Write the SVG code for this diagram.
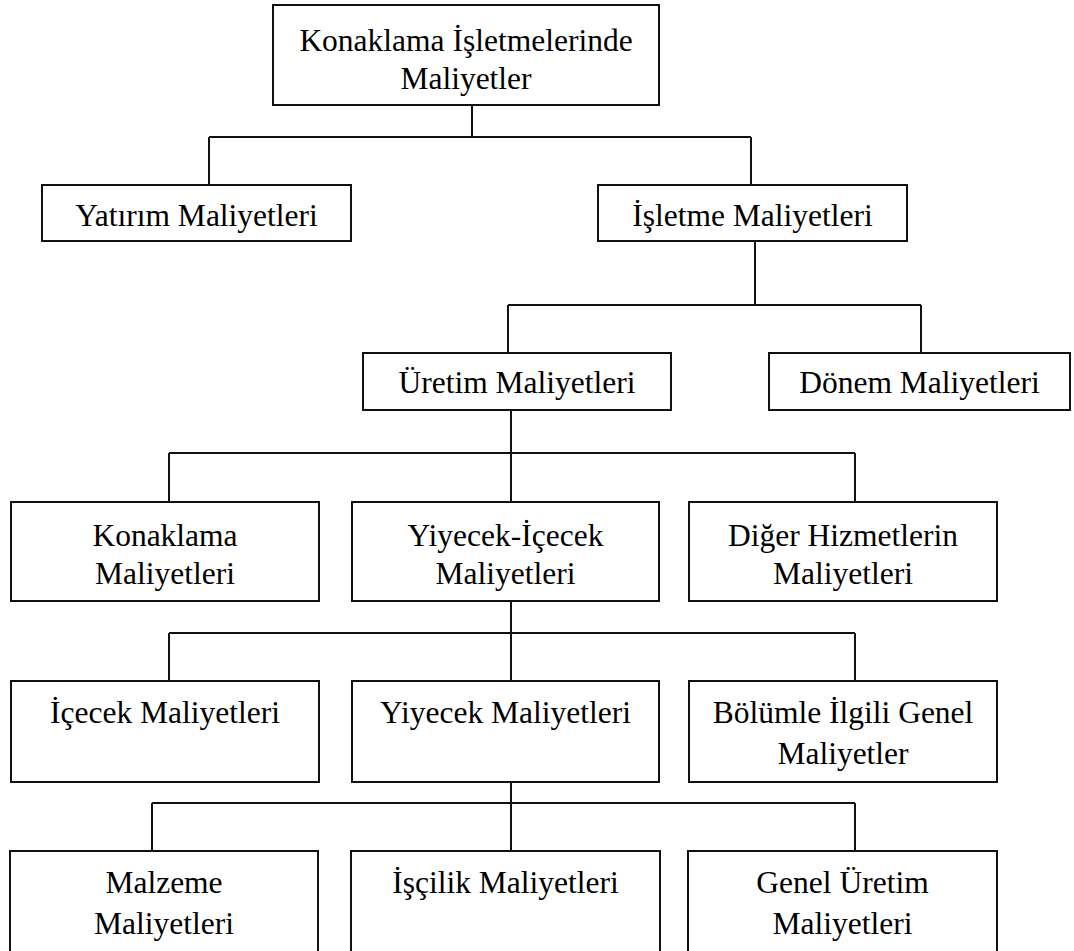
<svg xmlns="http://www.w3.org/2000/svg" width="1074" height="951" viewBox="0 0 1074 951">
  <style>
    .box { fill: #ffffff; stroke: #111111; stroke-width: 2; }
    .lbl { font-family: "Liberation Serif", "Times New Roman", serif; font-size: 31.5px; fill: #000000; text-anchor: middle; }
    .conn { fill: none; stroke: #111111; stroke-width: 2; }
  </style>
  <rect width="1074" height="951" fill="#ffffff"/>

  <!-- connectors -->
  <g id="connectors" class="conn">
    <path d="M472,105 V137 M209,137 H751 M209,137 V185 M751,137 V185"/>
    <path d="M755,241 V305 M508,305 H921 M508,305 V353 M921,305 V353"/>
    <path d="M511,410 V502 M169,453 H855 M169,453 V502 M855,453 V502"/>
    <path d="M511,601 V681 M169,633 H855 M169,633 V681 M855,633 V681"/>
    <path d="M511,782 V851 M152,803 H855 M152,803 V851 M855,803 V851"/>
  </g>

  <!-- level 0 -->
  <g id="n-root">
    <rect class="box" x="273" y="5" width="386" height="100"/>
    <text class="lbl" x="466" y="51">Konaklama İşletmelerinde</text>
    <text class="lbl" x="466" y="89">Maliyetler</text>
  </g>

  <!-- level 1 -->
  <g id="n-yatirim">
    <rect class="box" x="42" y="185" width="309" height="56"/>
    <text class="lbl" x="196.5" y="226">Yatırım Maliyetleri</text>
  </g>
  <g id="n-isletme">
    <rect class="box" x="598" y="185" width="309" height="56"/>
    <text class="lbl" x="752.5" y="226">İşletme Maliyetleri</text>
  </g>

  <!-- level 2 -->
  <g id="n-uretim">
    <rect class="box" x="363" y="353" width="308" height="57"/>
    <text class="lbl" x="517" y="393">Üretim Maliyetleri</text>
  </g>
  <g id="n-donem">
    <rect class="box" x="769" y="353" width="301" height="57"/>
    <text class="lbl" x="919.5" y="393">Dönem Maliyetleri</text>
  </g>

  <!-- level 3 -->
  <g id="n-konaklama">
    <rect class="box" x="11" y="502" width="308" height="99"/>
    <text class="lbl" x="165" y="546">Konaklama</text>
    <text class="lbl" x="165" y="584">Maliyetleri</text>
  </g>
  <g id="n-yiyecek-icecek">
    <rect class="box" x="352" y="502" width="307" height="99"/>
    <text class="lbl" x="505.5" y="546">Yiyecek-İçecek</text>
    <text class="lbl" x="505.5" y="584">Maliyetleri</text>
  </g>
  <g id="n-diger">
    <rect class="box" x="689" y="502" width="308" height="99"/>
    <text class="lbl" x="843" y="546">Diğer Hizmetlerin</text>
    <text class="lbl" x="843" y="584">Maliyetleri</text>
  </g>

  <!-- level 4 -->
  <g id="n-icecek">
    <rect class="box" x="11" y="681" width="308" height="101"/>
    <text class="lbl" x="165" y="723">İçecek Maliyetleri</text>
  </g>
  <g id="n-yiyecek">
    <rect class="box" x="352" y="681" width="307" height="101"/>
    <text class="lbl" x="505.5" y="723">Yiyecek Maliyetleri</text>
  </g>
  <g id="n-bolumle">
    <rect class="box" x="689" y="681" width="308" height="101"/>
    <text class="lbl" x="843" y="723">Bölümle İlgili Genel</text>
    <text class="lbl" x="843" y="764">Maliyetler</text>
  </g>

  <!-- level 5 -->
  <g id="n-malzeme">
    <rect class="box" x="10" y="851" width="308" height="110"/>
    <text class="lbl" x="164" y="893">Malzeme</text>
    <text class="lbl" x="164" y="934">Maliyetleri</text>
  </g>
  <g id="n-iscilik">
    <rect class="box" x="351" y="851" width="309" height="110"/>
    <text class="lbl" x="505.5" y="893">İşçilik Maliyetleri</text>
  </g>
  <g id="n-genel-uretim">
    <rect class="box" x="688" y="851" width="309" height="110"/>
    <text class="lbl" x="842.5" y="893">Genel Üretim</text>
    <text class="lbl" x="842.5" y="934">Maliyetleri</text>
  </g>
</svg>
